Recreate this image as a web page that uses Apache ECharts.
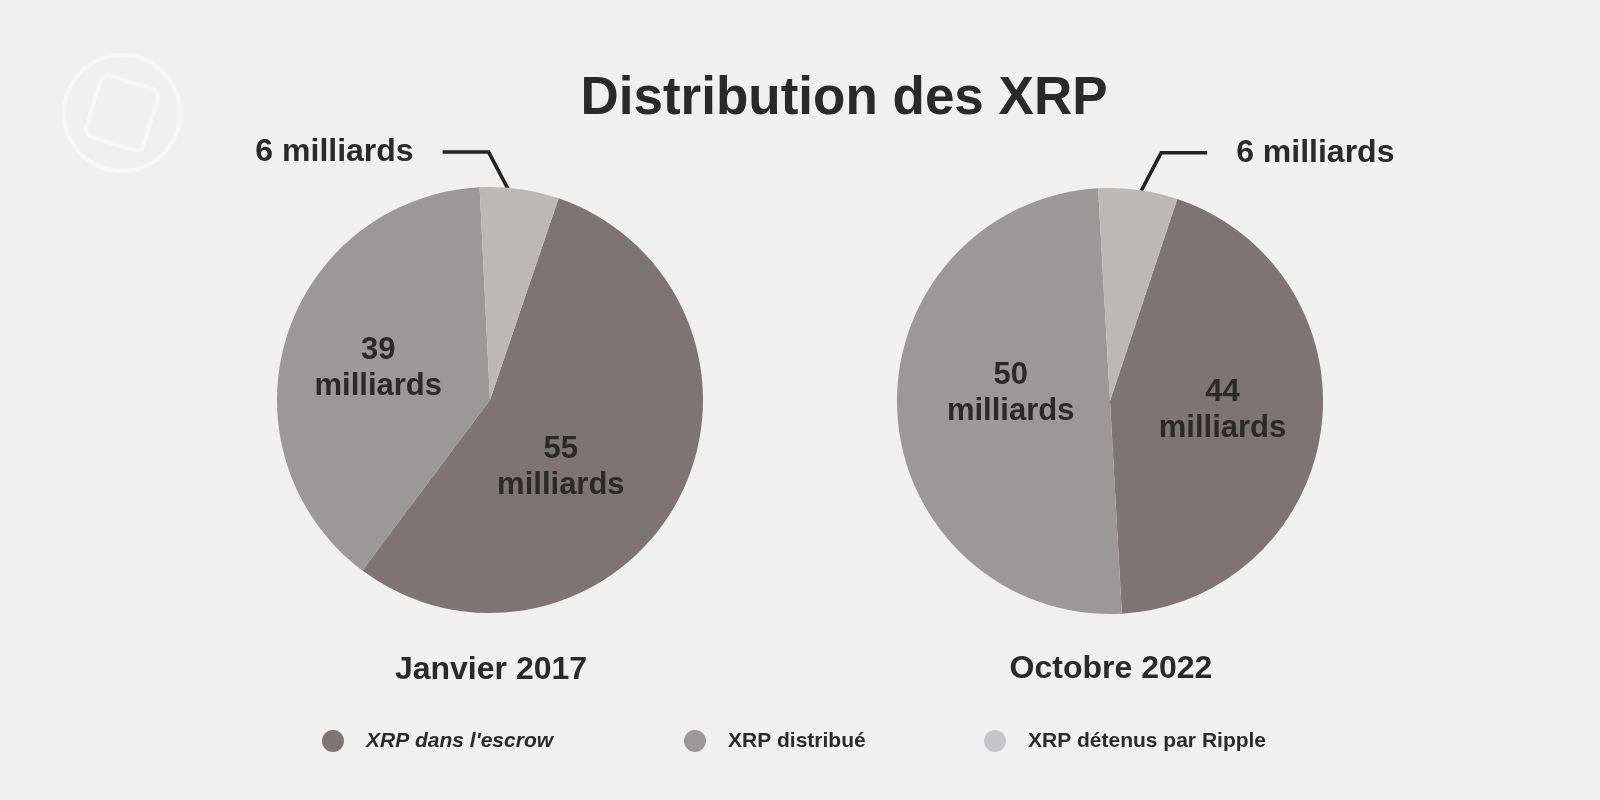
<!DOCTYPE html>
<html><head><meta charset="utf-8">
<script src="https://cdn.jsdelivr.net/npm/echarts@6/dist/echarts.min.js"></script>
<style>html,body{margin:0;padding:0;background:#f0f0f0}#c{width:1600px;height:800px}</style>
</head><body><div id="c"></div>
<script>
const categories = ["XRP dans l'escrow", "XRP distribué", "XRP détenus par Ripple"];
const jan2017 = [55, 39, 6];
const oct2022 = [44, 50, 6];
const periods = ["Janvier 2017", "Octobre 2022"];
const unit = "milliards";

const FONT = '"Liberation Sans", Arial, sans-serif';
const sliceColors = ['#7d7573', '#9b9899', '#bbb8b8'];
const legendColors = ['#7d7573', '#9b9899', '#c5c5c7'];
const TXT = '#2a2a2a';

function buildData(vals) {
  return vals.map((v, i) => {
    const d = { name: categories[i], value: v, itemStyle: { color: sliceColors[i] } };
    if (i === 2) {
      d.label = { show: true, position: 'outside', formatter: '{c} ' + unit,
        fontFamily: FONT, fontWeight: 'bold', fontSize: 32, color: TXT };
      d.labelLine = { show: true, length: 30, length2: 40, lineStyle: { color: '#222', width: 3.5 } };
    } else {
      d.label = { show: true, position: 'inside', formatter: '{c}\n' + unit,
        fontFamily: FONT, fontWeight: 'bold', fontSize: 31, lineHeight: 36, color: TXT };
      d.labelLine = { show: false };
    }
    return d;
  });
}

// label nudges (inside labels) per series: [escrow, distribué]
const nudges = [[[-26, 16], [-7, 0]], [[4, -5], [10, -14]]];

function layoutFn(dir, si) {
  return function (p) {
    if (p.dataIndex !== 2) {
      const n = nudges[si][p.dataIndex];
      return { dx: n[0], dy: n[1] };
    }
    if (!p.labelLinePoints) return {};
    const p0 = p.labelLinePoints[0];
    const s0 = [p0[0] + (dir < 0 ? -11 : 3), p0[1] + 1];
    const p1 = [s0[0] + dir * 20, s0[1] - 38];
    const p2 = [p1[0] + dir * 46, p1[1]];
    return {
      x: p2[0] + dir * 29, y: p1[1],
      align: dir < 0 ? 'right' : 'left', verticalAlign: 'middle',
      labelLinePoints: [s0, p1, p2]
    };
  };
}

const chart = echarts.init(document.getElementById('c'));
const legends = categories.map((c, i) => ({
  data: [{ name: c, itemStyle: { color: legendColors[i] },
    textStyle: i === 0 ? { fontStyle: 'italic' } : {} }],
  left: [317, 679, 979][i], top: 725,
  icon: 'circle', itemWidth: 22, itemHeight: 22,
  selectedMode: false,
  textStyle: { fontFamily: FONT, fontWeight: 'bold', fontSize: 21, color: TXT, padding: [0, 0, 0, 17] }
}));

chart.setOption({
  backgroundColor: '#f0f0f0',
  animation: false,
  title: [
    { text: 'Distribution des XRP', left: 839, top: 68, textAlign: 'center',
      textStyle: { fontFamily: FONT, fontWeight: 'bold', fontSize: 53, color: TXT } },
    { text: periods[0], left: 486, top: 649, textAlign: 'center',
      textStyle: { fontFamily: FONT, fontWeight: 'bold', fontSize: 32, color: TXT } },
    { text: periods[1], left: 1106, top: 648, textAlign: 'center',
      textStyle: { fontFamily: FONT, fontWeight: 'bold', fontSize: 32, color: TXT } }
  ],
  legend: legends,
  graphic: [
    { type: 'circle', shape: { cx: 122, cy: 113, r: 58 }, style: { fill: 'none', stroke: '#f6f6f6', lineWidth: 4 }, silent: true },
    { type: 'rect', x: 122, y: 113, originX: 0, originY: 0, rotation: -0.3,
      shape: { x: -30, y: -32, width: 60, height: 64, r: 8 },
      style: { fill: 'none', stroke: '#f6f6f6', lineWidth: 4 }, silent: true }
  ],
  series: [
    { type: 'pie', center: [490, 400], radius: [0, 213], startAngle: 71.2, clockwise: true,
      data: buildData(jan2017), labelLayout: layoutFn(-1, 0), emphasis: { disabled: true } },
    { type: 'pie', center: [1110, 401], radius: [0, 213], startAngle: 71.6, clockwise: true,
      data: buildData(oct2022), labelLayout: layoutFn(1, 1), emphasis: { disabled: true } }
  ]
});
</script></body></html>
